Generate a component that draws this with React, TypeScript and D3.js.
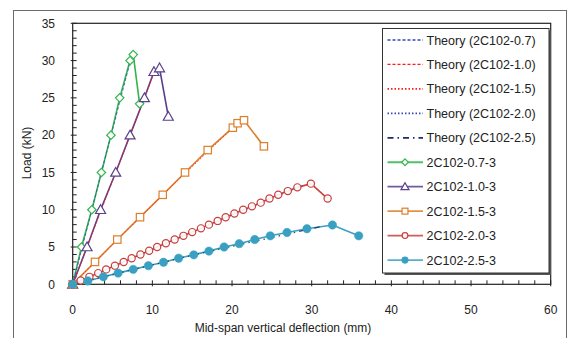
import React from "react";
import * as d3 from "d3";

const xTicks = [0, 10, 20, 30, 40, 50, 60];
const yTicks = [0, 5, 10, 15, 20, 25, 30, 35];

// Experimental series [deflection mm, load kN]
const s07: [number, number][] = [
  [0, 0], [1.1, 5], [2.4, 10], [3.6, 15], [4.8, 20], [5.9, 25], [7.2, 30], [7.6, 30.8], [8.4, 24.2],
];
const s10: [number, number][] = [
  [0, 0], [1.8, 5], [3.5, 10], [5.4, 15], [7.2, 20], [9.0, 25], [10.2, 28.5], [10.9, 29.0], [12.0, 22.5],
];
const s15: [number, number][] = [
  [0, 0], [2.8, 3], [5.6, 6], [8.45, 9], [11.3, 12], [14.1, 15], [16.95, 18], [20.1, 21.0], [20.7, 21.6], [21.5, 22.0], [24.0, 18.5],
];
const s20: [number, number][] = [
  [0, 0], [1.0, 0.5], [2.1, 1.0], [3.2, 1.5], [4.2, 2.0], [5.3, 2.5], [6.4, 3.0], [7.4, 3.5], [8.5, 4.0],
  [9.6, 4.5], [10.6, 5.0], [11.7, 5.5], [12.8, 6.0], [13.9, 6.5], [15.0, 7.0], [16.1, 7.5], [17.1, 8.0],
  [18.2, 8.5], [19.2, 9.0], [20.3, 9.5], [21.4, 10.0], [22.5, 10.45], [23.6, 10.95], [24.7, 11.5],
  [25.8, 12.0], [27.0, 12.5], [28.2, 13.0], [29.9, 13.5], [32.0, 11.5],
];
const s25: [number, number][] = [
  [0, 0], [1.9, 0.45], [3.85, 1.0], [5.7, 1.5], [7.6, 2.0], [9.5, 2.5], [11.4, 2.95], [13.3, 3.5],
  [15.2, 3.95], [17.1, 4.45], [19.0, 5.0], [20.9, 5.45], [22.85, 6.0], [24.8, 6.5], [26.9, 6.95],
  [29.4, 7.45], [32.6, 7.95], [35.9, 6.5],
];

// Theory curves
const t07: [number, number][] = [[0, 0], [3.6, 15], [7.4, 30.6]];
const t10: [number, number][] = [[0, 0], [5.4, 15], [10.3, 28.6]];
const t15: [number, number][] = [[0, 0], [11.3, 12], [20.5, 21.4]];
const t20: [number, number][] = [[0, 0], [15.0, 7.0], [29.0, 13.3]];
const t25: [number, number][] = [[0, 0], [15.2, 3.95], [31.0, 7.7]];

const theoryNames = [
  "Theory (2C102-0.7)", "Theory (2C102-1.0)", "Theory (2C102-1.5)", "Theory (2C102-2.0)", "Theory (2C102-2.5)",
];
const expNames = ["2C102-0.7-3", "2C102-1.0-3", "2C102-1.5-3", "2C102-2.0-3", "2C102-2.5-3"];

const theoryStyles = [
  { color: "#3346c0", dash: "3,2", width: 1.3 },
  { color: "#ff1a1a", dash: "3,2", width: 1.3 },
  { color: "#ff1a1a", dash: "1.5,2", width: 1.6 },
  { color: "#3346c0", dash: "1.5,2", width: 1.6 },
  { color: "#1f2d66", dash: "6,4,1.5,4", width: 1.8 },
];
const expStyles = [
  { color: "#33b54c", marker: "diamond" },
  { color: "#5a3f8b", marker: "triangle" },
  { color: "#db7f2c", marker: "square" },
  { color: "#c8403e", marker: "circle" },
  { color: "#3aa0c2", marker: "dot" },
];

const FONT = "'Liberation Sans', Arial, sans-serif";

function Marker({ type, x, y, color, s = 1 }: { type: string; x: number; y: number; color: string; s?: number }) {
  if (type === "diamond") {
    const r = 4.2 * s;
    return <path d={`M${x},${y - r}L${x + r},${y}L${x},${y + r}L${x - r},${y}Z`} fill="white" stroke={color} strokeWidth={1.2} />;
  }
  if (type === "triangle") {
    const r = 5 * s;
    return <path d={`M${x},${y - r}L${x + r},${y + r * 0.75}L${x - r},${y + r * 0.75}Z`} fill="white" stroke={color} strokeWidth={1.2} />;
  }
  if (type === "square") {
    const r = 3.7 * s;
    return <rect x={x - r} y={y - r} width={2 * r} height={2 * r} fill="white" stroke={color} strokeWidth={1.2} />;
  }
  if (type === "circle") {
    return <circle cx={x} cy={y} r={3.6 * s} fill="white" fillOpacity={0.9} stroke={color} strokeWidth={1.2} />;
  }
  return <circle cx={x} cy={y} r={4.2 * s} fill={color} stroke={color} strokeWidth={0.5} />;
}

export default function App() {
  const W = 574, H = 338;
  const x = d3.scaleLinear().domain([0, 60]).range([72.7, 550.7]);
  const y = d3.scaleLinear().domain([0, 35]).range([284.3, 23.3]);
  const line = d3.line<[number, number]>().x((d) => x(d[0])).y((d) => y(d[1]));
  const exps = [s07, s10, s15, s20, s25];
  const theories = [t07, t10, t15, t20, t25];
  const xMinor = d3.range(0, 61, 2);
  const yMinor = d3.range(0, 36, 1);

  const lgX = 382.5, lgY = 28.5, lgW = 166.5, lgH = 244.5;
  const rowY = (i: number) => 40 + i * 24.45;

  return (
    <svg width={W} height={H} style={{ position: "absolute", left: 0, top: 0, background: "white" }} fontFamily={FONT}>
      <rect x={0} y={0} width={W} height={H} fill="white" />
      {/* outer frame */}
      <rect x={13.5} y={10.5} width={553} height={400} fill="none" stroke="#6b6b6b" strokeWidth={1} />
      {/* plot frame */}
      <rect x={x(0)} y={y(35)} width={x(60) - x(0)} height={y(0) - y(35)} fill="none" stroke="#222" strokeWidth={1.2} />
      {/* x ticks */}
      {xMinor.map((v) => (
        <line key={"xm" + v} x1={x(v)} x2={x(v)} y1={y(0) - 4} y2={y(0) + (v % 10 === 0 ? 2 : 0)} stroke="#222" strokeWidth={1} />
      ))}
      {yMinor.map((v) => (
        <line key={"ym" + v} x1={x(0) - (v % 5 === 0 ? 2 : 0)} x2={x(0) + 4} y1={y(v)} y2={y(v)} stroke="#222" strokeWidth={1} />
      ))}
      {xTicks.map((v) => (
        <text key={"xt" + v} x={x(v)} y={313.5} textAnchor="middle" fontSize={12} fill="#222">{v}</text>
      ))}
      {yTicks.map((v) => (
        <text key={"yt" + v} x={55} y={y(v) + 4.3} textAnchor="end" fontSize={12} fill="#222">{v}</text>
      ))}
      <text x={283} y={332} textAnchor="middle" fontSize={12} fill="#222">Mid-span vertical deflection (mm)</text>
      <text transform={`translate(31,153) rotate(-90)`} textAnchor="middle" fontSize={12} fill="#222">Load (kN)</text>

      {/* experimental lines */}
      {exps.map((s, i) => (
        <path key={"el" + i} d={line(s) || ""} fill="none" stroke={expStyles[i].color} strokeWidth={1.6} />
      ))}
      {/* theory lines */}
      {theories.map((s, i) => (
        <path key={"tl" + i} d={line(s) || ""} fill="none" stroke={theoryStyles[i].color} strokeWidth={i === 4 ? 1.3 : 0.9} strokeOpacity={0.85} strokeDasharray={theoryStyles[i].dash} />
      ))}
      {/* markers */}
      {exps.map((s, i) => (
        <g key={"em" + i}>
          {s.map((d, j) => (
            <Marker key={j} type={expStyles[i].marker} x={x(d[0])} y={y(d[1])} color={expStyles[i].color} />
          ))}
        </g>
      ))}

      {/* legend */}
      <rect x={lgX + 2} y={lgY + 2} width={lgW} height={lgH} fill="#555" />
      <rect x={lgX} y={lgY} width={lgW} height={lgH} fill="white" stroke="#333" strokeWidth={1} />
      {theoryNames.map((n, i) => (
        <g key={"lt" + i}>
          <line x1={387.5} x2={423} y1={rowY(i)} y2={rowY(i)} stroke={theoryStyles[i].color} strokeWidth={theoryStyles[i].width} strokeDasharray={theoryStyles[i].dash} />
          <text x={426.5} y={rowY(i) + 4.5} fontSize={12.5} fill="#222">{n}</text>
        </g>
      ))}
      {expNames.map((n, i) => (
        <g key={"le" + i}>
          <line x1={387.5} x2={423} y1={rowY(i + 5)} y2={rowY(i + 5)} stroke={expStyles[i].color} strokeWidth={1.8} strokeOpacity={0.85} />
          <Marker type={expStyles[i].marker} x={405} y={rowY(i + 5)} color={expStyles[i].color} s={0.8} />
          <text x={426.5} y={rowY(i + 5) + 4.5} fontSize={12.5} fill="#222">{n}</text>
        </g>
      ))}
    </svg>
  );
}
